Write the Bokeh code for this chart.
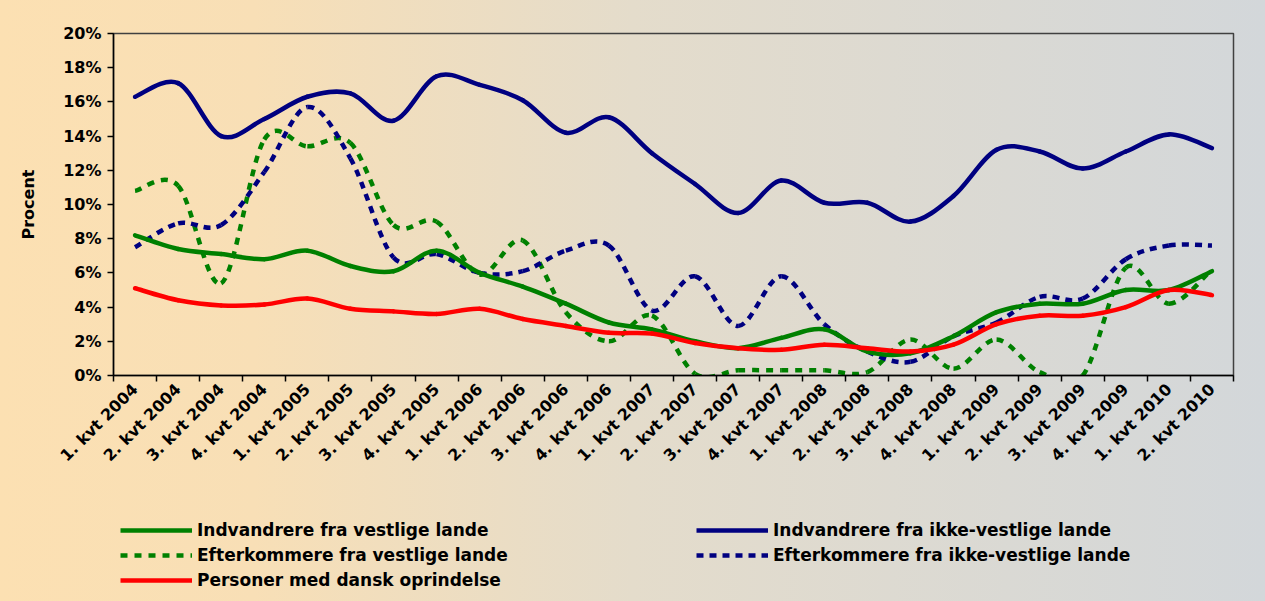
from bokeh.plotting import figure
from bokeh.layouts import column
from bokeh.models import (ColumnDataSource, Range1d, FixedTicker, Legend, LegendItem, LinearAxis)
from bokeh.embed import file_html
from bokeh.resources import INLINE

quarters = ["1. kvt 2004", "2. kvt 2004", "3. kvt 2004", "4. kvt 2004",
            "1. kvt 2005", "2. kvt 2005", "3. kvt 2005", "4. kvt 2005",
            "1. kvt 2006", "2. kvt 2006", "3. kvt 2006", "4. kvt 2006",
            "1. kvt 2007", "2. kvt 2007", "3. kvt 2007", "4. kvt 2007",
            "1. kvt 2008", "2. kvt 2008", "3. kvt 2008", "4. kvt 2008",
            "1. kvt 2009", "2. kvt 2009", "3. kvt 2009", "4. kvt 2009",
            "1. kvt 2010", "2. kvt 2010"]

indv_vest = [8.2, 7.4, 7.1, 6.8, 7.3, 6.4, 6.1, 7.3, 6.0, 5.2, 4.2, 3.1, 2.7,
             2.0, 1.6, 2.2, 2.7, 1.4, 1.3, 2.3, 3.7, 4.2, 4.2, 5.0, 5.0, 6.1]
eft_vest = [10.8, 11.1, 5.4, 13.8, 13.4, 13.6, 8.8, 9.0, 5.9, 7.9, 3.7, 2.0, 3.5,
            0.1, 0.3, 0.3, 0.3, 0.2, 2.1, 0.4, 2.1, 0.2, 0.0, 6.3, 4.2, 6.2]
indv_ikke = [16.3, 17.1, 14.0, 15.0, 16.3, 16.5, 14.9, 17.5, 17.0, 16.1, 14.2, 15.1, 13.0,
             11.2, 9.5, 11.4, 10.1, 10.1, 9.0, 10.5, 13.2, 13.1, 12.1, 13.1, 14.1, 13.3]
eft_ikke = [7.5, 8.9, 8.8, 11.9, 15.7, 12.7, 6.9, 7.1, 6.0, 6.1, 7.3, 7.6, 3.8,
            5.8, 2.9, 5.8, 3.0, 1.4, 0.8, 2.3, 3.1, 4.6, 4.5, 6.8, 7.6, 7.6]
dansk = [5.1, 4.4, 4.1, 4.15, 4.5, 3.9, 3.75, 3.6, 3.9, 3.3, 2.9, 2.5, 2.45,
         1.9, 1.6, 1.5, 1.8, 1.6, 1.4, 1.8, 3.0, 3.5, 3.5, 4.0, 5.0, 4.7]

y_ticks = [0, 2, 4, 6, 8, 10, 12, 14, 16, 18, 20]

series_labels = ["Indvandrere fra vestlige lande", "Efterkommere fra vestlige lande",
                 "Personer med dansk oprindelse", "Indvandrere fra ikke-vestlige lande",
                 "Efterkommere fra ikke-vestlige lande"]

FONT = "DejaVu Sans"
GRADIENT = {"background": "linear-gradient(to right, #FCE0B2 0%, #F8DFB6 20%, #E4DCCB 50%, #D3D7DA 100%)"}
GREEN = "#008000"
NAVY = "#000080"
RED = "#FF0000"


def smooth_source(values):
    """Bezier segments (Excel-like smoothed line) through the data points."""
    n = len(values)
    xs = [i + 0.5 for i in range(n)]
    d = dict(x0=[], y0=[], x1=[], y1=[], cx0=[], cy0=[], cx1=[], cy1=[])
    for i in range(n - 1):
        a = max(i - 1, 0)
        b = min(i + 2, n - 1)
        x0, y0 = xs[a], values[a]
        x1, y1 = xs[i], values[i]
        x2, y2 = xs[i + 1], values[i + 1]
        x3, y3 = xs[b], values[b]
        d["x0"].append(x1); d["y0"].append(y1)
        d["x1"].append(x2); d["y1"].append(y2)
        d["cx0"].append(x1 + (x2 - x0) / 6); d["cy0"].append(y1 + (y2 - y0) / 6)
        d["cx1"].append(x2 - (x3 - x1) / 6); d["cy1"].append(y2 - (y3 - y1) / 6)
    return ColumnDataSource(d)


p = figure(frame_width=1120, frame_height=342, output_backend="svg", toolbar_location=None,
           x_range=Range1d(0, len(quarters)), y_range=Range1d(0, 20),
           min_border_left=113, min_border_right=32, min_border_top=33,
           min_border_bottom=138, x_axis_type=None, y_axis_type=None)

p.background_fill_color = None
p.border_fill_color = None
p.styles = GRADIENT
p.outline_line_color = "#404040"
p.outline_line_width = 1.5
p.xgrid.visible = False
p.ygrid.visible = False

# x axis: labels at category centres, tick marks at category boundaries
centers = [i + 0.5 for i in range(len(quarters))]
bounds = [float(i) for i in range(len(quarters) + 1)]
xaxis = LinearAxis(ticker=FixedTicker(ticks=centers, minor_ticks=bounds))
xaxis.major_label_overrides = {c: q for c, q in zip(centers, quarters)}
xaxis.major_tick_line_color = None
xaxis.major_tick_out = 0
xaxis.major_tick_in = 0
xaxis.minor_tick_out = 6
xaxis.minor_tick_in = 0
xaxis.minor_tick_line_color = "black"
xaxis.minor_tick_line_width = 1.5
xaxis.axis_line_color = "black"
xaxis.axis_line_width = 1.5
xaxis.major_label_orientation = 0.785398
xaxis.major_label_standoff = 5
xaxis.major_label_text_font = FONT
xaxis.major_label_text_font_style = "bold"
xaxis.major_label_text_font_size = "16px"
xaxis.major_label_text_color = "black"
p.add_layout(xaxis, "below")

yaxis = LinearAxis(ticker=FixedTicker(ticks=y_ticks))
yaxis.major_label_overrides = {v: f"{v}%" for v in y_ticks}
yaxis.minor_tick_line_color = None
yaxis.major_tick_out = 6
yaxis.major_tick_in = 0
yaxis.major_tick_line_width = 1.5
yaxis.axis_line_width = 1.5
yaxis.major_label_standoff = 6
yaxis.major_label_text_font = FONT
yaxis.major_label_text_font_style = "bold"
yaxis.major_label_text_font_size = "16px"
yaxis.major_label_text_color = "black"
yaxis.axis_label = "Procent"
yaxis.axis_label_text_font = FONT
yaxis.axis_label_text_font_style = "bold"
yaxis.axis_label_text_font_size = "16px"
yaxis.axis_label_text_color = "black"
yaxis.axis_label_standoff = 22
p.add_layout(yaxis, "left")

bez = dict(x0="x0", y0="y0", x1="x1", y1="y1", cx0="cx0", cy0="cy0", cx1="cx1", cy1="cy1")
series = [(eft_vest, dict(line_color=GREEN, line_dash="7 7")),
          (eft_ikke, dict(line_color=NAVY, line_dash="7 6")),
          (indv_vest, dict(line_color=GREEN, line_cap="round")),
          (indv_ikke, dict(line_color=NAVY, line_cap="round")),
          (dansk, dict(line_color=RED, line_cap="round"))]
for vals, st in series:
    p.bezier(source=smooth_source(vals), line_width=4.5, **bez, **st)

# legend strip below the chart, same background; its glyph renderers hold the
# same series but lie outside this strip's (empty) view range
lg = figure(width=1265, height=88, output_backend="svg", toolbar_location=None,
            x_range=Range1d(0, len(quarters)), y_range=Range1d(1000, 1001),
            min_border_left=113, min_border_right=32, min_border_top=0, min_border_bottom=0,
            x_axis_type=None, y_axis_type=None)
lg.background_fill_color = None
lg.border_fill_color = None
lg.outline_line_color = None
lg.styles = GRADIENT
lg.xgrid.visible = False
lg.ygrid.visible = False

legend_series = [indv_vest, eft_vest, dansk, indv_ikke, eft_ikke]
legend_styles = [dict(line_color=GREEN), dict(line_color=GREEN, line_dash="7 7"),
                 dict(line_color=RED), dict(line_color=NAVY), dict(line_color=NAVY, line_dash="7 6")]
items = []
for label, vals, st in zip(series_labels, legend_series, legend_styles):
    r = lg.bezier(source=smooth_source(vals), line_width=4.5, **bez, **st)
    items.append(LegendItem(label=label, renderers=[r]))

legend = Legend(items=items, orientation="vertical", nrows=3, ncols=2,
                location="top_left", padding=0, margin=7, spacing=5,
                glyph_width=72, glyph_height=20, label_standoff=5, label_width=494,
                label_text_font=FONT, label_text_font_style="bold", label_text_font_size="17px",
                label_text_color="black", background_fill_alpha=0, border_line_color=None)
lg.add_layout(legend, "center")

layout = column(p, lg, spacing=0)
open("out.html", "w").write(file_html(layout, INLINE))
